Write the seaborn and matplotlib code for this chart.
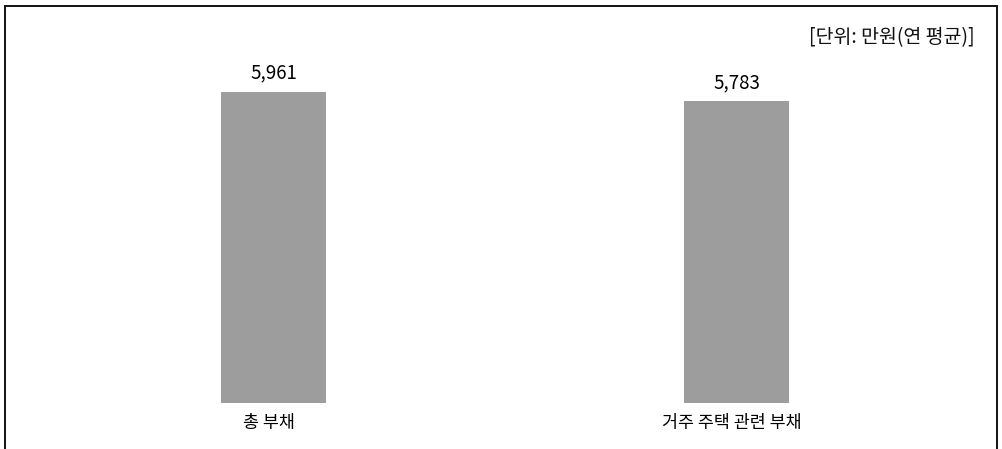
import matplotlib
matplotlib.use("Agg")
import matplotlib.pyplot as plt
from matplotlib.patches import Rectangle
from matplotlib.transforms import ScaledTranslation
import seaborn as sns
import pandas as pd

# Average household debt, in 10,000 KRW (annual average)
categories = ["총 부채", "거주 주택 관련 부채"]
values = [5961, 5783]
unit_label = "[단위: 만원(연 평균)]"

sns.set_theme(style="white")
plt.rcParams["font.family"] = ["Noto Sans CJK KR", "DejaVu Sans"]

W, H = 1003, 449
fig = plt.figure(figsize=(W / 100, H / 100), dpi=100)
fig.patch.set_facecolor("white")

# axes: baseline at y=403px, top at y=5px, spanning the framed area
ax = fig.add_axes([5 / W, (H - 403) / H, 992 / W, 398 / H])

df = pd.DataFrame({"category": categories, "value": values})
sns.barplot(data=df, x="category", y="value", color="#9d9d9d",
            saturation=1, width=0.227, ax=ax, edgecolor="none")

# pixel scale: 5961 -> 311 px
ax.set_ylim(0, 5961 * 398 / 311)
ax.set_xlim((5 - 273.5) / 463, (997 - 273.5) / 463)

for c in ax.containers:
    ax.bar_label(c, labels=[f"{v:,}" for v in values], padding=6,
                 fontsize=13.5, color="#000000")

ax.set_xlabel("")
ax.set_ylabel("")
ax.set_yticks([])
ax.tick_params(axis="x", length=0, pad=8, labelsize=12.5, labelcolor="#000000")
shift = ScaledTranslation(-5 / 100, 0, fig.dpi_scale_trans)
for lbl in ax.get_xticklabels():
    lbl.set_transform(lbl.get_transform() + shift)
for s in ax.spines.values():
    s.set_visible(False)
ax.patch.set_alpha(0)

fig.text(975 / W, (H - 38) / H, unit_label, ha="right", va="center",
         fontsize=14, color="#111111")

# outer frame (bottom edge runs past the canvas)
fig.patches.append(Rectangle((4.5 / W, -0.2), 992.5 / W, 0.2 + (H - 5.5) / H,
                             transform=fig.transFigure, fill=False,
                             edgecolor="#111111", linewidth=1.4, clip_on=False))

fig.savefig("out.png", dpi=100)
